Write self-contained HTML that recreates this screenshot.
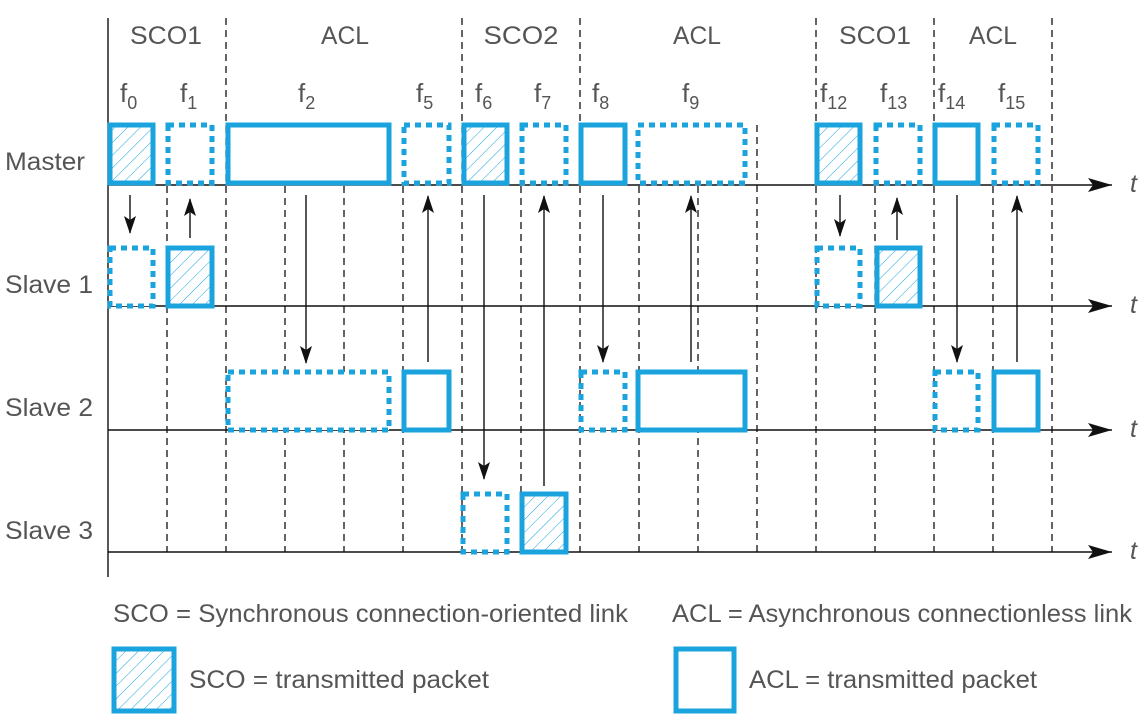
<!DOCTYPE html>
<html><head><meta charset="utf-8"><style>html,body{margin:0;padding:0;background:#fff}svg{display:block}</style></head>
<body>
<svg width="1146" height="719" viewBox="0 0 1146 719" xmlns="http://www.w3.org/2000/svg" font-family="Liberation Sans, sans-serif">
<defs>
<pattern id="h" patternUnits="userSpaceOnUse" width="9" height="9" patternTransform="rotate(45)">
<line x1="0" y1="0" x2="0" y2="9" stroke="#1aa3dd" stroke-width="1"/>
</pattern>
<marker id="a" markerWidth="18" markerHeight="12" refX="17" refY="6" orient="auto" markerUnits="userSpaceOnUse"><path d="M0,0 L18,6 L0,12 L4,6 z" fill="#111"/></marker>
<marker id="t" markerWidth="26" markerHeight="14" refX="24" refY="7" orient="auto" markerUnits="userSpaceOnUse"><path d="M0,0 L24,7 L0,14 L5,7 z" fill="#111"/></marker>
</defs>
<g stroke="#111" stroke-width="1.3" stroke-dasharray="7,5" fill="none">
<line x1="226" y1="18" x2="226" y2="552"/>
<line x1="462" y1="18" x2="462" y2="552"/>
<line x1="580" y1="18" x2="580" y2="552"/>
<line x1="816" y1="18" x2="816" y2="552"/>
<line x1="934" y1="18" x2="934" y2="552"/>
<line x1="1052" y1="18" x2="1052" y2="552"/>
<line x1="167" y1="186" x2="167" y2="552"/>
<line x1="285" y1="186" x2="285" y2="552"/>
<line x1="344" y1="186" x2="344" y2="552"/>
<line x1="403" y1="186" x2="403" y2="552"/>
<line x1="521" y1="186" x2="521" y2="552"/>
<line x1="639" y1="186" x2="639" y2="552"/>
<line x1="698" y1="186" x2="698" y2="552"/>
<line x1="757" y1="125" x2="757" y2="552"/>
<line x1="875" y1="186" x2="875" y2="552"/>
<line x1="993" y1="186" x2="993" y2="552"/>
</g>
<g stroke="#111" stroke-width="1.4">
<line x1="108" y1="18" x2="108" y2="577"/>
<line x1="108" y1="185" x2="1112" y2="185" marker-end="url(#t)"/>
<line x1="108" y1="306" x2="1112" y2="306" marker-end="url(#t)"/>
<line x1="108" y1="430" x2="1112" y2="430" marker-end="url(#t)"/>
<line x1="108" y1="552" x2="1112" y2="552" marker-end="url(#t)"/>
</g>
<g stroke="#111" stroke-width="1.4">
<line x1="130" y1="195" x2="130" y2="233" marker-end="url(#a)"/>
<line x1="190" y1="238" x2="190" y2="199" marker-end="url(#a)"/>
<line x1="306" y1="195" x2="306" y2="363" marker-end="url(#a)"/>
<line x1="428" y1="362" x2="428" y2="196" marker-end="url(#a)"/>
<line x1="484" y1="195" x2="484" y2="479" marker-end="url(#a)"/>
<line x1="544" y1="486" x2="544" y2="196" marker-end="url(#a)"/>
<line x1="603" y1="195" x2="603" y2="362" marker-end="url(#a)"/>
<line x1="691" y1="362" x2="691" y2="196" marker-end="url(#a)"/>
<line x1="840" y1="195" x2="840" y2="236" marker-end="url(#a)"/>
<line x1="897" y1="240" x2="897" y2="198" marker-end="url(#a)"/>
<line x1="957" y1="195" x2="957" y2="362" marker-end="url(#a)"/>
<line x1="1017" y1="362" x2="1017" y2="196" marker-end="url(#a)"/>
</g>
<g stroke="#1aa3dd" stroke-width="5" fill="#fff">
<rect x="110" y="125" width="43" height="58" fill="url(#h)"/>
<rect x="168" y="125" width="44" height="58" stroke-dasharray="6,5"/>
<rect x="228" y="125" width="161" height="58"/>
<rect x="404" y="125" width="45" height="58" stroke-dasharray="6,5"/>
<rect x="464" y="125" width="43" height="58" fill="url(#h)"/>
<rect x="522" y="125" width="44" height="58" stroke-dasharray="6,5"/>
<rect x="581" y="125" width="44" height="58"/>
<rect x="638" y="125" width="107" height="58" stroke-dasharray="6,5"/>
<rect x="817" y="125" width="43" height="58" fill="url(#h)"/>
<rect x="876" y="125" width="44" height="58" stroke-dasharray="6,5"/>
<rect x="935" y="125" width="43" height="58"/>
<rect x="994" y="125" width="44" height="58" stroke-dasharray="6,5"/>
<rect x="110" y="248" width="43" height="58" stroke-dasharray="6,5"/>
<rect x="168" y="248" width="44" height="58" fill="url(#h)"/>
<rect x="817" y="248" width="43" height="58" stroke-dasharray="6,5"/>
<rect x="877" y="248" width="43" height="58" fill="url(#h)"/>
<rect x="228" y="372" width="161" height="58" stroke-dasharray="6,5"/>
<rect x="404" y="372" width="45" height="58"/>
<rect x="581" y="372" width="44" height="58" stroke-dasharray="6,5"/>
<rect x="638" y="372" width="107" height="58"/>
<rect x="935" y="372" width="43" height="58" stroke-dasharray="6,5"/>
<rect x="994" y="372" width="44" height="58"/>
<rect x="463" y="494" width="44" height="58" stroke-dasharray="6,5"/>
<rect x="522" y="494" width="44" height="58" fill="url(#h)"/>
<rect x="114" y="649" width="60" height="62" fill="url(#h)"/>
<rect x="676" y="649" width="58" height="62"/>
</g>
<g fill="#555" font-size="25">
<text x="166" y="44" text-anchor="middle" textLength="72" lengthAdjust="spacingAndGlyphs">SCO1</text>
<text x="345" y="44" text-anchor="middle" textLength="48" lengthAdjust="spacingAndGlyphs">ACL</text>
<text x="521" y="44" text-anchor="middle" textLength="75" lengthAdjust="spacingAndGlyphs">SCO2</text>
<text x="697" y="44" text-anchor="middle" textLength="48" lengthAdjust="spacingAndGlyphs">ACL</text>
<text x="875" y="44" text-anchor="middle" textLength="72" lengthAdjust="spacingAndGlyphs">SCO1</text>
<text x="993" y="44" text-anchor="middle" textLength="48" lengthAdjust="spacingAndGlyphs">ACL</text>
<text x="5" y="170" textLength="80" lengthAdjust="spacingAndGlyphs">Master</text>
<text x="5" y="293" textLength="88" lengthAdjust="spacingAndGlyphs">Slave 1</text>
<text x="5" y="416" textLength="88" lengthAdjust="spacingAndGlyphs">Slave 2</text>
<text x="5" y="539" textLength="88" lengthAdjust="spacingAndGlyphs">Slave 3</text>
<text x="1130" y="192" font-style="italic">t</text>
<text x="1130" y="313" font-style="italic">t</text>
<text x="1130" y="437" font-style="italic">t</text>
<text x="1130" y="559" font-style="italic">t</text>
<text x="113" y="622" textLength="515" lengthAdjust="spacingAndGlyphs">SCO = Synchronous connection-oriented link</text>
<text x="672" y="622" textLength="460" lengthAdjust="spacingAndGlyphs">ACL = Asynchronous connectionless link</text>
<text x="189" y="688" textLength="300" lengthAdjust="spacingAndGlyphs">SCO = transmitted packet</text>
<text x="749" y="688" textLength="288" lengthAdjust="spacingAndGlyphs">ACL = transmitted packet</text>
</g>
<g fill="#555" font-size="26">
<text x="120" y="102">f<tspan font-size="18" dy="7">0</tspan></text>
<text x="180" y="102">f<tspan font-size="18" dy="7">1</tspan></text>
<text x="298" y="102">f<tspan font-size="18" dy="7">2</tspan></text>
<text x="416" y="102">f<tspan font-size="18" dy="7">5</tspan></text>
<text x="475" y="102">f<tspan font-size="18" dy="7">6</tspan></text>
<text x="534" y="102">f<tspan font-size="18" dy="7">7</tspan></text>
<text x="592" y="102">f<tspan font-size="18" dy="7">8</tspan></text>
<text x="682" y="102">f<tspan font-size="18" dy="7">9</tspan></text>
<text x="820" y="102">f<tspan font-size="18" dy="7">12</tspan></text>
<text x="880" y="102">f<tspan font-size="18" dy="7">13</tspan></text>
<text x="938" y="102">f<tspan font-size="18" dy="7">14</tspan></text>
<text x="998" y="102">f<tspan font-size="18" dy="7">15</tspan></text>
</g>
</svg>
</body></html>
